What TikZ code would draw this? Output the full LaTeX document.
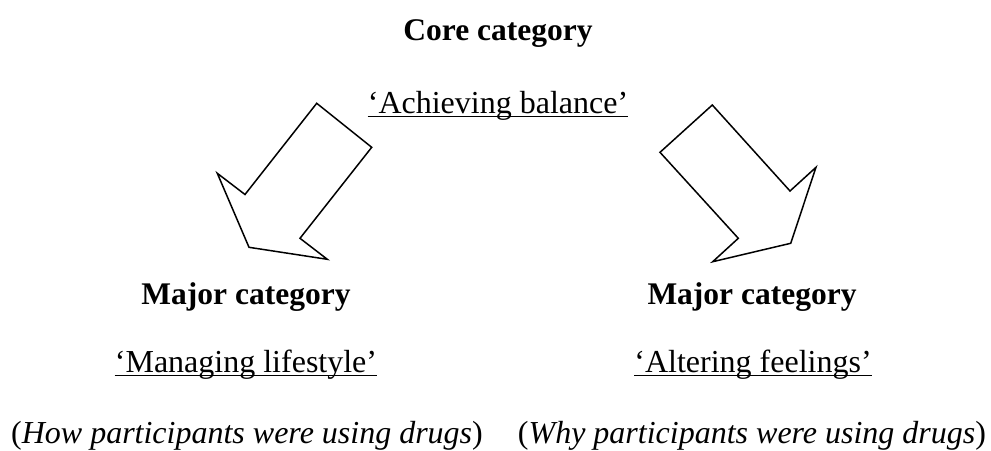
\documentclass[tikz,border=0pt]{standalone}
\usepackage{fontspec}
\setmainfont{Liberation Serif}
\begin{document}
\begin{tikzpicture}[x=1pt,y=-1pt,
  lbl/.style={inner sep=0pt, anchor=base, font=\fontsize{32}{36}\selectfont},
  hd/.style={lbl, font=\fontsize{31.5}{36}\selectfont\bfseries},
  uline/.style={line width=1.5pt},
  blockarrow/.style={draw, line width=1.5pt, line join=miter, fill=white}]
\useasboundingbox (0,0) rectangle (991,450);
% texts
\node[hd]  (core) at (498,40)  {Core category};
\node[lbl] (ach)  at (498,113) {‘Achieving balance’};
\node[hd]  (majL) at (246,304) {Major category};
\node[hd]  (majR) at (752,304) {Major category};
\node[lbl] (man)  at (246,372) {‘Managing lifestyle’};
\node[lbl] (alt)  at (753,372) {‘Altering feelings’};
\node[lbl] (how)  at (247,443) {(\textit{How participants were using drugs})};
\node[lbl] (why)  at (752,443) {(\textit{Why participants were using drugs})};
% underlines
\foreach \n in {ach,man,alt}
  \draw[uline] ([yshift=-3.5pt]\n.base west) -- ([yshift=-3.5pt]\n.base east);
% left block arrow
\draw[blockarrow] (316.7,103.3) -- (371.7,147.3) -- (300,238.3) -- (327.3,259.3)
  -- (249,247.3) -- (217.3,173.3) -- (245,194.5) -- cycle;
% right block arrow
\draw[blockarrow] (712.3,105) -- (790,191) -- (816,167.3) -- (790.7,243.3)
  -- (712.7,261.7) -- (738.3,238.3) -- (660,152.3) -- cycle;
\end{tikzpicture}
\end{document}
